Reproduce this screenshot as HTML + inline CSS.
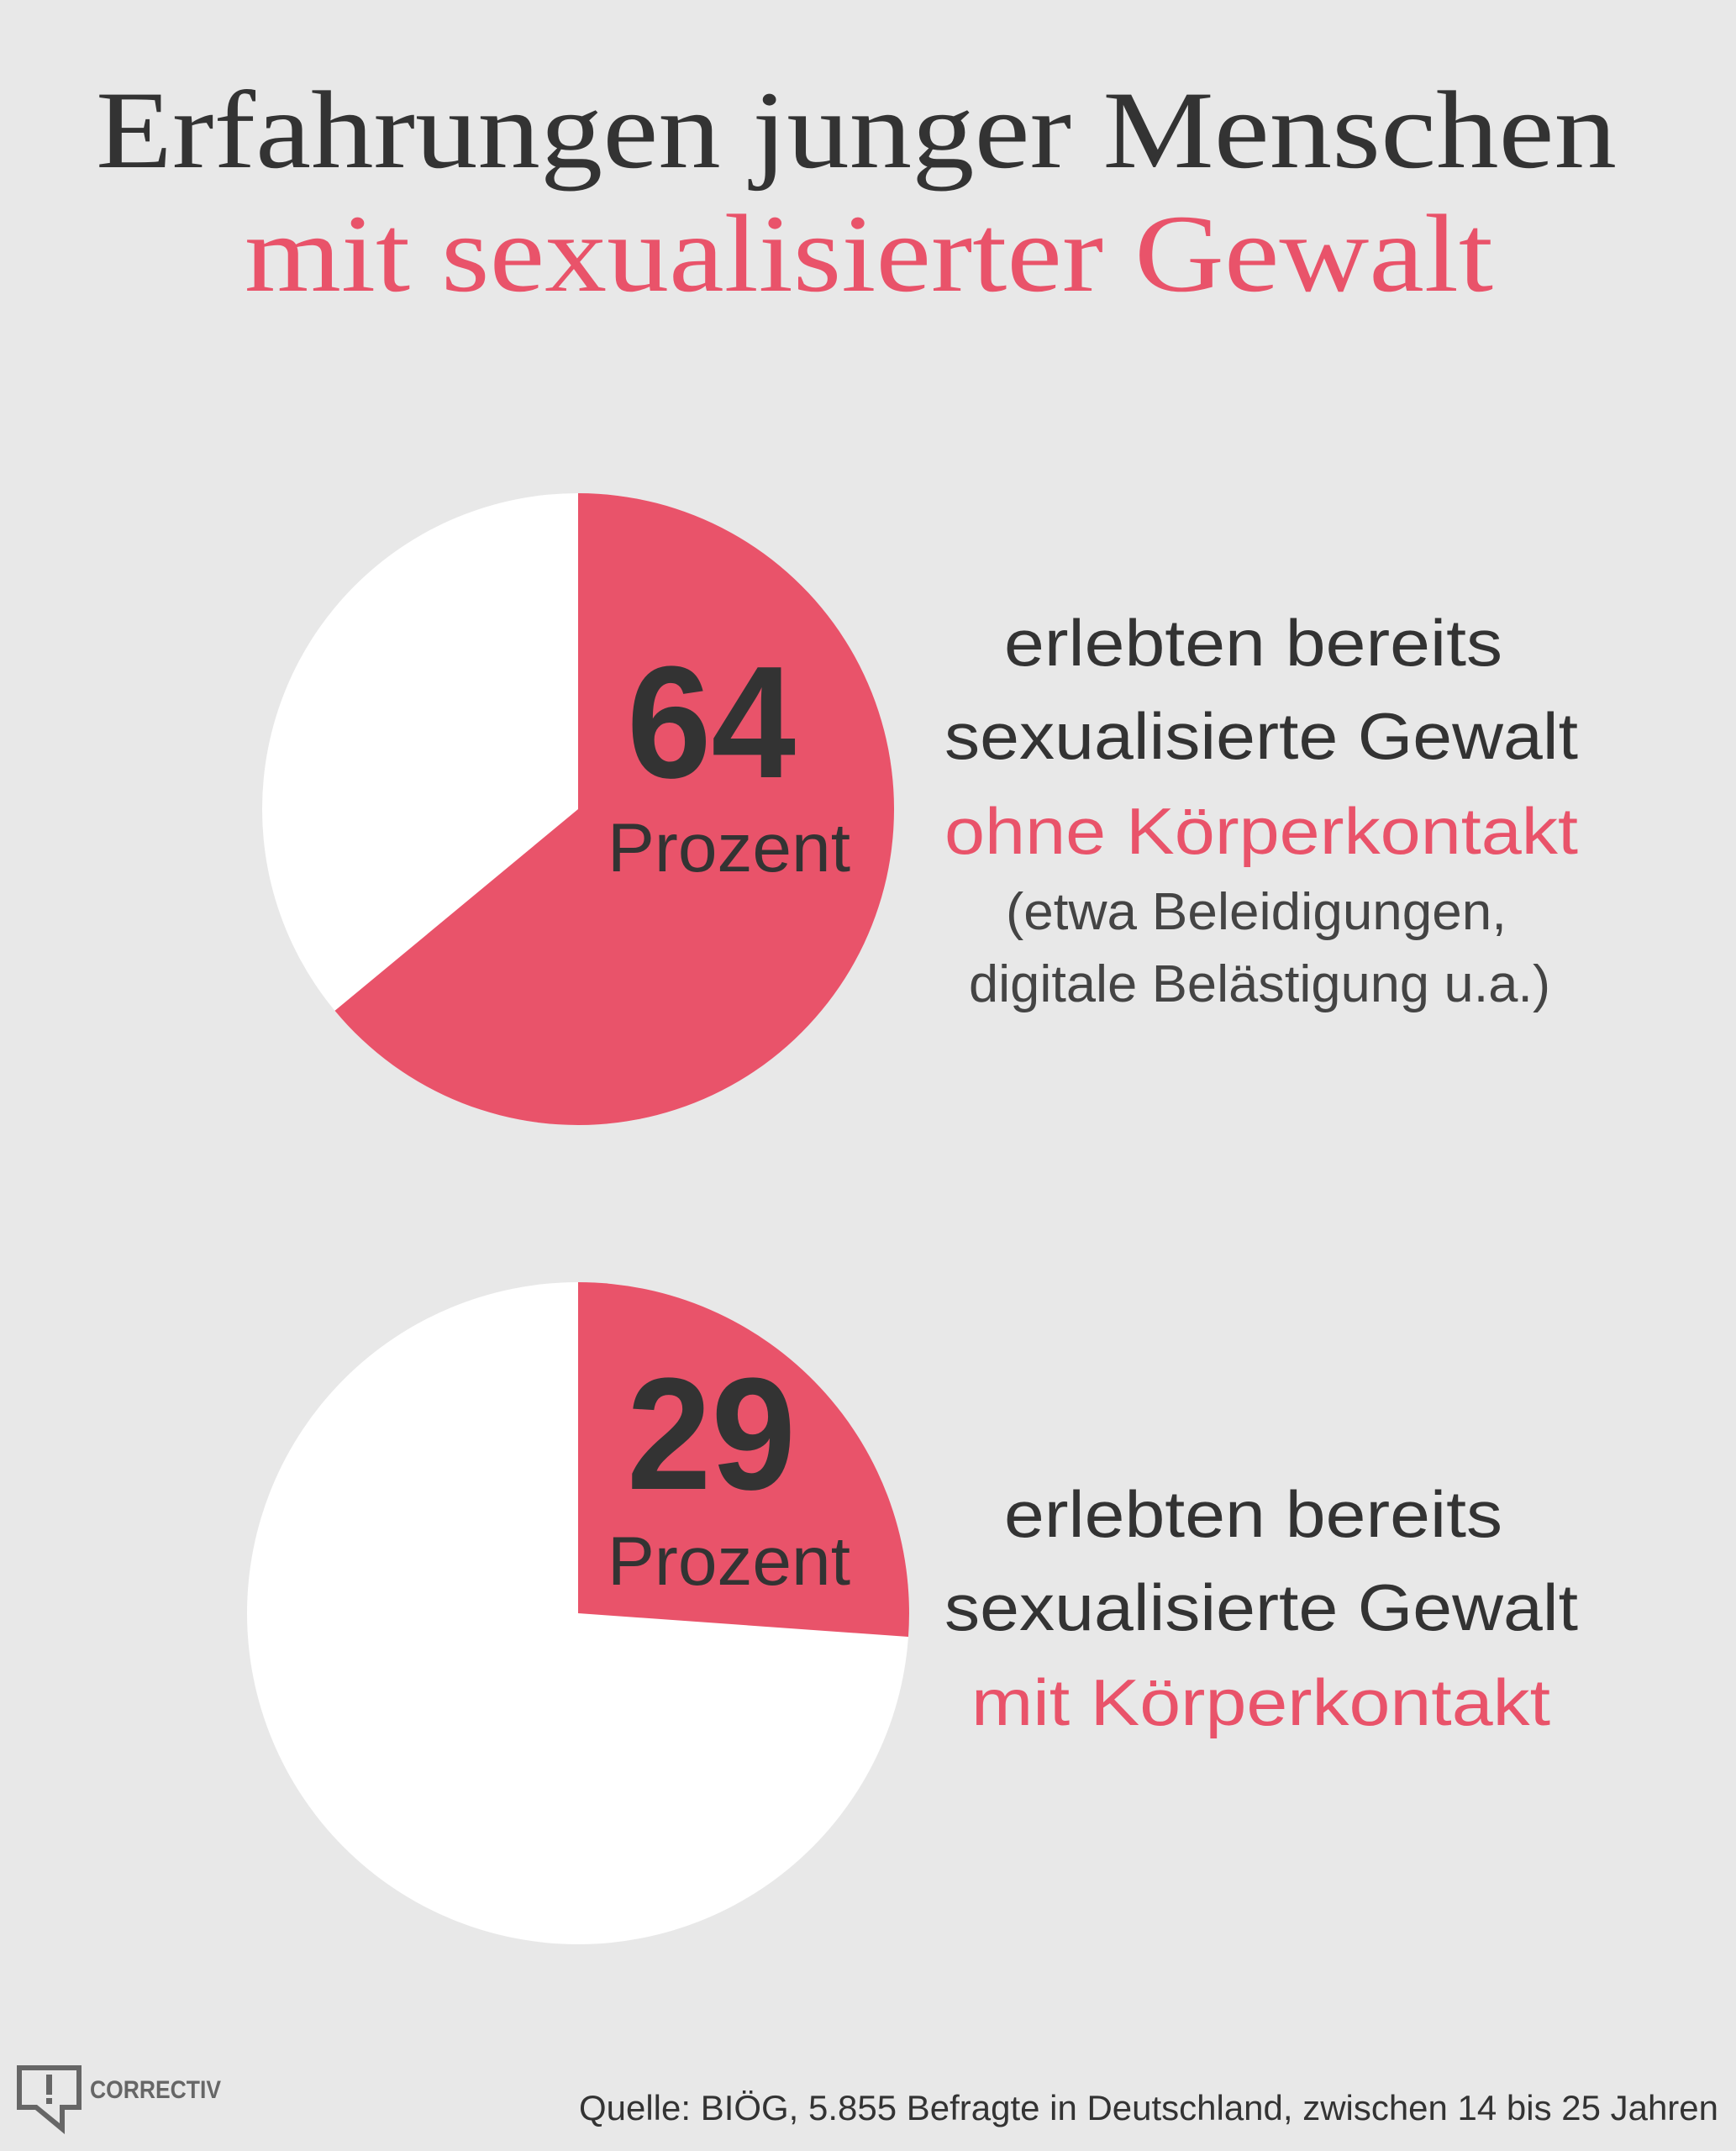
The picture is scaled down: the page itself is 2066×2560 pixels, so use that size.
<!DOCTYPE html>
<html><head><meta charset="utf-8"><style>html,body{margin:0;padding:0;background:#e8e8e8}svg{display:block}</style></head>
<body>
<svg width="2066" height="2560" viewBox="0 0 2066 2560" xmlns="http://www.w3.org/2000/svg">
<rect width="2066" height="2560" fill="#e8e8e8"/>
<g font-family="'Liberation Serif', serif" text-anchor="start">
<text x="114" y="199" font-size="132" fill="#333" textLength="1810" lengthAdjust="spacingAndGlyphs">Erfahrungen junger Menschen</text>
<text x="291" y="346" font-size="132" fill="#e9536a" textLength="1486" lengthAdjust="spacingAndGlyphs">mit sexualisierter Gewalt</text>
</g>
<circle cx="688" cy="963" r="376" fill="#fff"/>
<path d="M688,963 L688,587 A376,376 0 1 1 398.5,1202.9 Z" fill="#e9536a"/>
<circle cx="688" cy="1920" r="394" fill="#fff"/>
<path d="M688,1920 L688,1526 A394,394 0 0 1 1081,1948 Z" fill="#e9536a"/>
<g font-family="'Liberation Sans', sans-serif" fill="#333">
<text x="746" y="925" font-size="190" font-weight="bold" textLength="201" lengthAdjust="spacingAndGlyphs">64</text>
<text x="723" y="1037" font-size="82" textLength="289" lengthAdjust="spacingAndGlyphs">Prozent</text>
<text x="746" y="1772" font-size="190" font-weight="bold" textLength="201" lengthAdjust="spacingAndGlyphs">29</text>
<text x="723" y="1886" font-size="82" textLength="289" lengthAdjust="spacingAndGlyphs">Prozent</text>
<text x="1195" y="792" font-size="78" textLength="593" lengthAdjust="spacingAndGlyphs">erlebten bereits</text>
<text x="1124" y="903" font-size="78" textLength="754" lengthAdjust="spacingAndGlyphs">sexualisierte Gewalt</text>
<text x="1124" y="1016" font-size="78" fill="#e9536a" textLength="754" lengthAdjust="spacingAndGlyphs">ohne Körperkontakt</text>
<text x="1197" y="1106" font-size="62" fill="#444" textLength="596" lengthAdjust="spacingAndGlyphs">(etwa Beleidigungen,</text>
<text x="1153" y="1192" font-size="62" fill="#444" textLength="692" lengthAdjust="spacingAndGlyphs">digitale Belästigung u.a.)</text>
<text x="1195" y="1829" font-size="78" textLength="593" lengthAdjust="spacingAndGlyphs">erlebten bereits</text>
<text x="1124" y="1940" font-size="78" textLength="754" lengthAdjust="spacingAndGlyphs">sexualisierte Gewalt</text>
<text x="1156" y="2053" font-size="78" fill="#e9536a" textLength="689" lengthAdjust="spacingAndGlyphs">mit Körperkontakt</text>
<text x="689" y="2523" font-size="42" textLength="1356" lengthAdjust="spacingAndGlyphs">Quelle: BIÖG, 5.855 Befragte in Deutschland, zwischen 14 bis 25 Jahren</text>
<text x="107" y="2497" font-size="30" font-weight="bold" fill="#666" textLength="156" lengthAdjust="spacingAndGlyphs">CORRECTIV</text>
</g>
<path d="M20,2458 H97 V2511 H77 V2540 L42,2511 H20 Z M26,2464 V2505 H44 L71,2527 V2505 H91 V2464 Z" fill="#666" fill-rule="evenodd"/>
<rect x="55" y="2469" width="7" height="24" fill="#666"/>
<rect x="55" y="2497" width="7" height="7" fill="#666"/>
</svg>
</body></html>
